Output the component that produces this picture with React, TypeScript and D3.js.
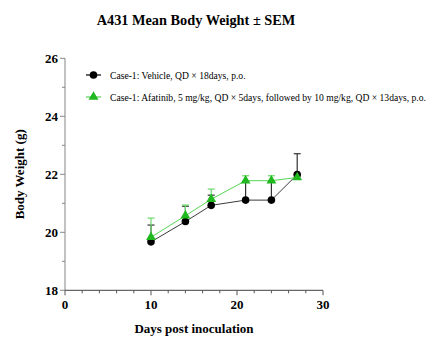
import React from 'react';
import * as d3 from 'd3';

// data
const DAYS = [10, 14, 17, 21, 24, 27];
const VEHICLE_MEAN = [19.67, 20.37, 20.93, 21.11, 21.11, 21.99];
const VEHICLE_SEM = [0.58, 0.53, 0.35, 0.64, 0.64, 0.72];
const AFATINIB_MEAN = [19.83, 20.57, 21.14, 21.78, 21.78, 21.89];
const AFATINIB_SEM = [0.66, 0.37, 0.35, 0.17, 0.17, 0.06];

const X_TICKS = [0, 10, 20, 30];
const Y_TICKS = [18, 20, 22, 24, 26];

const LEGEND = [
  'Case-1: Vehicle, QD × 18days, p.o.',
  'Case-1: Afatinib, 5 mg/kg, QD × 5days, followed by 10 mg/kg, QD × 13days, p.o.',
];

const FONT = '"Liberation Serif", "Times New Roman", serif';

export default function App() {
  const W = 434, H = 362;
  const x = d3.scaleLinear().domain([0, 30]).range([65, 323]);
  const y = d3.scaleLinear().domain([18, 26]).range([290.3, 58.3]);

  const series = [
    { mean: VEHICLE_MEAN, sem: VEHICLE_SEM, line: '#3a3a3a', bar: '#333', fill: '#000', marker: 'circle' },
    { mean: AFATINIB_MEAN, sem: AFATINIB_SEM, line: '#55d655', bar: '#6ad86a', fill: '#1fb81f', marker: 'triangle' },
  ];

  const line = d3.line<number>().x((_, i) => x(DAYS[i])).y(v => y(v));
  const tri = d3.symbol().type(d3.symbolTriangle).size(42)();

  const marker = (kind: string, cx: number, cy: number, fill: string, key: string) =>
    kind === 'circle'
      ? <circle key={key} cx={cx} cy={cy} r={3.8} fill={fill} />
      : <path key={key} d={tri!} transform={`translate(${cx},${cy})`} fill={fill} />;

  const xMinor = d3.range(0, 31, 2);
  const yMinor = d3.range(18, 26.01, 1);

  return (
    <svg width={W} height={H} style={{ position: 'absolute', left: 0, top: 0, background: '#fff' }}>
      <text x={196} y={25} textAnchor="middle" fontFamily={FONT} fontWeight="bold" fontSize={14.3}>
        A431 Mean Body Weight ± SEM
      </text>

      {/* y axis */}
      <line x1={x(0)} x2={x(0)} y1={y(26)} y2={y(18)} stroke="#999" strokeWidth={1.2} />
      {yMinor.map(v => (
        <line key={'ym' + v} x1={x(0) - (v % 2 === 0 ? 5 : 3)} x2={x(0)} y1={y(v)} y2={y(v)} stroke="#888" strokeWidth={1} />
      ))}
      {Y_TICKS.map(v => (
        <text key={'yt' + v} x={x(0) - 7} y={y(v) + 4.5} textAnchor="end" fontFamily={FONT} fontWeight="bold" fontSize={13}>{v}</text>
      ))}
      <text transform={`translate(24,${y(22)}) rotate(-90)`} textAnchor="middle" fontFamily={FONT} fontWeight="bold" fontSize={13}>
        Body Weight (g)
      </text>

      {/* x axis */}
      <line x1={x(0)} x2={x(30)} y1={y(18)} y2={y(18)} stroke="#666" strokeWidth={1.2} />
      {xMinor.map(v => (
        <line key={'xm' + v} x1={x(v)} x2={x(v)} y1={y(18)} y2={y(18) + (v % 10 === 0 ? 5 : 3)} stroke="#555" strokeWidth={1} />
      ))}
      {X_TICKS.map(v => (
        <text key={'xt' + v} x={x(v)} y={y(18) + 19} textAnchor="middle" fontFamily={FONT} fontWeight="bold" fontSize={13}>{v}</text>
      ))}
      <text x={194} y={333} textAnchor="middle" fontFamily={FONT} fontWeight="bold" fontSize={13}>
        Days post inoculation
      </text>

      {/* error bars */}
      {series.map((s, si) =>
        s.mean.map((m, i) => (
          <g key={`e${si}-${i}`} stroke={s.bar} strokeWidth={1.2}>
            <line x1={x(DAYS[i])} x2={x(DAYS[i])} y1={y(m)} y2={y(m + s.sem[i])} />
            <line x1={x(DAYS[i]) - 3.5} x2={x(DAYS[i]) + 3.5} y1={y(m + s.sem[i])} y2={y(m + s.sem[i])} />
          </g>
        ))
      )}

      {/* lines and markers */}
      {series.map((s, si) => (
        <g key={'s' + si}>
          <path d={line(s.mean)!} fill="none" stroke={s.line} strokeWidth={1} />
          {s.mean.map((m, i) => marker(s.marker, x(DAYS[i]), y(m), s.fill, `m${si}-${i}`))}
        </g>
      ))}

      {/* legend */}
      {series.map((s, si) => {
        const ly = 75 + si * 22;
        return (
          <g key={'l' + si}>
            <line x1={86} x2={101} y1={ly} y2={ly} stroke={si === 0 ? '#000' : s.line} strokeWidth={1.2} />
            {marker(s.marker, 93.5, ly, s.fill, 'lm' + si)}
            <text x={110} y={ly + 3.5} fontFamily={FONT} fontSize={9.6}>{LEGEND[si]}</text>
          </g>
        );
      })}
    </svg>
  );
}
